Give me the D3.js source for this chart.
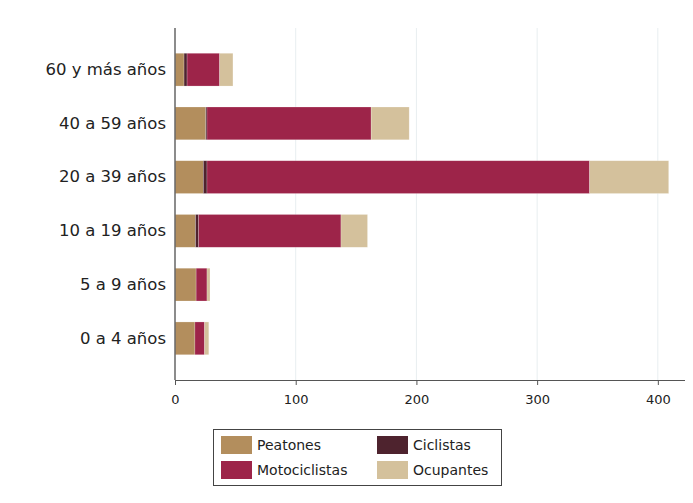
<!DOCTYPE html>
<html><head><meta charset="utf-8">
<script src="https://cdn.jsdelivr.net/npm/d3@7"></script>
<style>body{margin:0;background:#fff}svg{display:block}text{font-family:"DejaVu Sans",sans-serif;fill:#222}</style>
</head><body><svg id="c" width="693" height="503"></svg>
<script>
const categories = ["60 y más años","40 a 59 años","20 a 39 años","10 a 19 años","5 a 9 años","0 a 4 años"];
const seriesNames = ["Peatones","Ciclistas","Motociclistas","Ocupantes"];
const peatones = [7.5, 25.5, 23.5, 17, 17.5, 16.5];
const ciclistas = [2.5, 1, 3, 2.5, 0, 0];
const motociclistas = [27, 136, 317, 118, 9, 8];
const ocupantes = [11, 31.5, 65.5, 22, 2.5, 3.5];
const colors = ["#B38E5D","#4E232E","#9D2449","#D4C19C"];
const xTicks = [0,100,200,300,400];
const FONT = "'DejaVu Sans',sans-serif";

const svg = d3.select("#c");
const x = d3.scaleLinear().domain([0,422.5]).range([175,685]);
const y = d3.scaleBand().domain(categories).range([28,380]).paddingInner(0.39).paddingOuter(0.47);

const rows = categories.map((c,i)=>({cat:c, Peatones:peatones[i], Ciclistas:ciclistas[i], Motociclistas:motociclistas[i], Ocupantes:ocupantes[i]}));
const stacked = d3.stack().keys(seriesNames)(rows);

// gridlines
svg.append("g").selectAll("line").data(xTicks.filter(d=>d>0)).join("line")
  .attr("x1",d=>x(d)).attr("x2",d=>x(d)).attr("y1",28).attr("y2",380)
  .attr("stroke","#e8eef0").attr("stroke-width",1);

// bars
svg.append("g").selectAll("g").data(stacked).join("g")
  .attr("fill",(d,i)=>colors[i])
  .selectAll("rect").data(d=>d).join("rect")
  .attr("x",d=>x(d[0])).attr("width",d=>Math.max(0,x(d[1])-x(d[0])))
  .attr("y",d=>y(d.data.cat)).attr("height",y.bandwidth())
  .attr("stroke","#fff").attr("stroke-opacity",0.35).attr("stroke-width",0.6);

// x axis
const xa = svg.append("g").attr("transform","translate(0,380)")
  .call(d3.axisBottom(x).tickValues(xTicks).tickSize(5).tickPadding(10).tickSizeOuter(0));
xa.select(".domain").attr("stroke","#555").attr("d","M175,0.5H685");
xa.selectAll(".tick line").attr("stroke","#555");
xa.selectAll("text").attr("font-size",13).attr("fill","#333").style("font-family",FONT);

// y axis
const ya = svg.append("g").attr("transform","translate(175,0)")
  .call(d3.axisLeft(y).tickSize(0).tickPadding(9));
ya.select(".domain").attr("stroke","#666").attr("stroke-width",1.5).attr("d","M0,28V380");
ya.selectAll("text").attr("font-size",16.5).attr("fill","#2a2a2a").style("font-family",FONT);

// legend
const lg = svg.append("g");
lg.append("rect").attr("x",213.5).attr("y",429.5).attr("width",288).attr("height",56)
  .attr("fill","#fff").attr("stroke","#444").attr("stroke-width",1);
const pos = [[221,436],[377,436],[221,461],[377,461]];
seriesNames.forEach((n,i)=>{
  const [lx,ly]=pos[i];
  lg.append("rect").attr("x",lx).attr("y",ly).attr("width",31).attr("height",18).attr("fill",colors[i]);
  lg.append("text").attr("x",lx+36).attr("y",ly+9).attr("dy","0.35em").attr("font-size",14).style("font-family",FONT).text(n);
});
</script></body></html>
